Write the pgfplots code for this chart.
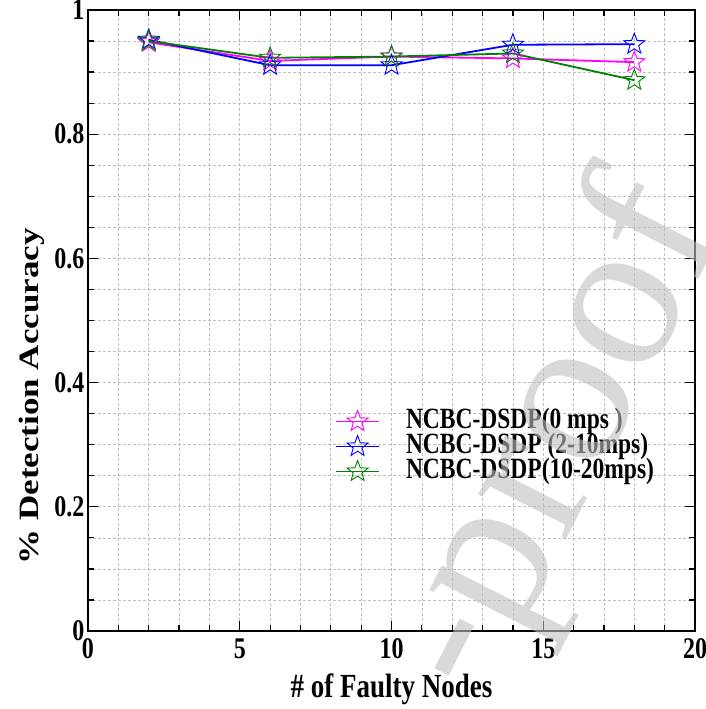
\documentclass[border=0pt]{standalone}
\usepackage{pgfplots}
\pgfplotsset{compat=1.18}
\usepackage{fontspec}
\setmainfont{Liberation Serif}
\usepackage{graphicx}
\newcommand\vs[1]{\scalebox{1}[1.25]{#1}}
\definecolor{dgreen}{RGB}{0,128,0}
\definecolor{mag}{RGB}{255,0,255}
\definecolor{blu}{RGB}{0,0,255}
\pgfdeclareplotmark{pentagram}{%
  \pgfpathmoveto{\pgfpointpolar{90}{\pgfplotmarksize}}%
  \pgfpathlineto{\pgfpointpolar{126}{0.42\pgfplotmarksize}}%
  \pgfpathlineto{\pgfpointpolar{162}{\pgfplotmarksize}}%
  \pgfpathlineto{\pgfpointpolar{198}{0.42\pgfplotmarksize}}%
  \pgfpathlineto{\pgfpointpolar{234}{\pgfplotmarksize}}%
  \pgfpathlineto{\pgfpointpolar{270}{0.42\pgfplotmarksize}}%
  \pgfpathlineto{\pgfpointpolar{306}{\pgfplotmarksize}}%
  \pgfpathlineto{\pgfpointpolar{342}{0.42\pgfplotmarksize}}%
  \pgfpathlineto{\pgfpointpolar{18}{\pgfplotmarksize}}%
  \pgfpathlineto{\pgfpointpolar{54}{0.42\pgfplotmarksize}}%
  \pgfpathclose
  \pgfusepath{stroke}
}
\begin{document}
\begin{tikzpicture}
\useasboundingbox (-88pt,-78pt) rectangle (617pt,631pt);
\begin{axis}[
  scale only axis, width=607pt, height=621pt,
  xmin=0, xmax=20, ymin=0, ymax=1,
  xtick={0,5,10,15,20}, xticklabels={\vs{0},\vs{5},\vs{10},\vs{15},\vs{20}},
  ytick={0,0.2,0.4,0.6,0.8,1}, yticklabels={\vs{0},\vs{0.2},\vs{0.4},\vs{0.6},\vs{0.8},\vs{1}},
  minor x tick num=4, minor y tick num=3,
  grid=both,
  major grid style={black!25, dash pattern=on 3pt off 2pt, line width=0.7pt},
  minor grid style={black!25, dash pattern=on 3pt off 2pt, line width=0.7pt},
  tick align=inside, tick pos=both,
  major tick length=10pt, minor tick length=6pt,
  every tick/.style={black, line width=1.2pt},
  axis line style={line width=1.5pt},
  ticklabel style={font=\fontsize{24}{24}\bfseries\selectfont},
  xticklabel style={yshift=-4pt},
  xlabel={\vs{\# of Faulty Nodes}},
  xlabel style={font=\fontsize{27}{27}\bfseries\selectfont, at={(axis description cs:0.5,0)}, anchor=base, yshift=-66pt},
  ylabel={\scalebox{1.25}[1]{\% Detection Accuracy}},
  ylabel style={font=\fontsize{28}{28}\bfseries\selectfont, at={(axis description cs:-0.093,0.378)}, anchor=center},
  legend style={at={(rel axis cs:0.402,0.361)}, anchor=north west, draw=none, fill=none,
    font=\fontsize{23.5}{23.5}\bfseries\selectfont,
    nodes={inner sep=1pt, text height=18pt, text depth=5pt},
    /tikz/every odd column/.append style={column sep=25pt}},
  legend cell align=left,
  legend image code/.code={\draw[mark repeat=2,mark phase=2,#1] plot coordinates {(0pt,0pt) (21.5pt,0pt) (43pt,0pt)};},
]
\addplot[mag, line width=1.8pt, mark=pentagram, mark size=11pt, mark options={line width=0.9pt, double=white, double distance=0.8pt}] coordinates {(2,0.948) (6,0.918) (10,0.925) (14,0.922) (18,0.916)};
\addlegendentry{\vs{NCBC-DSDP(0 mps )}}
\addplot[blu, line width=1.8pt, mark=pentagram, mark size=11pt, mark options={line width=0.9pt, double=white, double distance=0.8pt}] coordinates {(2,0.952) (6,0.911) (10,0.911) (14,0.944) (18,0.945)};
\addlegendentry{\vs{NCBC-DSDP (2-10mps)}}
\addplot[dgreen, line width=1.8pt, mark=pentagram, mark size=11pt, mark options={line width=0.9pt, double=white, double distance=0.8pt}] coordinates {(2,0.950) (6,0.923) (10,0.925) (14,0.930) (18,0.887)};
\addlegendentry{\vs{NCBC-DSDP(10-20mps)}}
\end{axis}
\node[rotate=63, anchor=base west, text=black!25, text opacity=0.6, font=\fontsize{215}{215}\selectfont, inner sep=0pt] at (395pt,-72pt) {-proof};
\end{tikzpicture}
\end{document}
